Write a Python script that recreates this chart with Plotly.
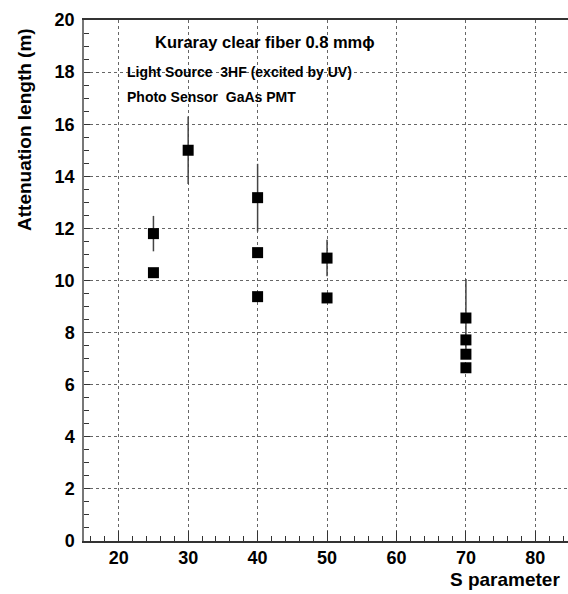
import plotly.graph_objects as go

s_param = [25, 25, 30, 40, 40, 40, 50, 50, 70, 70, 70, 70]
atten = [11.8, 10.3, 15.0, 13.18, 11.07, 9.38, 10.86, 9.33, 8.56, 7.72, 7.17, 6.65]
err = [0.68, 0, 1.3, 1.3, 0, 0, 0.7, 0, 1.5, 0, 0, 0]

x_ticks = [20, 30, 40, 50, 60, 70, 80]
y_ticks = [0, 2, 4, 6, 8, 10, 12, 14, 16, 18, 20]

W, H = 568, 594
L, R, T, B = 84, 0, 20, 53

def px(x):
    return (x - L) / (W - L - R)

def py(y):
    return (H - B - y) / (H - T - B)

FONT = "Liberation Sans, Arial, sans-serif"

fig = go.Figure()
fig.add_trace(go.Scatter(
    x=s_param, y=atten, mode="markers",
    marker=dict(symbol="square", size=11, color="black", line=dict(width=0)),
    error_y=dict(type="data", array=err, visible=True, thickness=1.5,
                 width=0, color="#444444"),
    showlegend=False,
))

axis_common = dict(
    showline=True, linewidth=1.5,
    ticks="inside", tickcolor="#333333", tickwidth=1,
    showgrid=True, gridcolor="#666666", griddash="dot", gridwidth=0.8,
    zeroline=False,
    tickfont=dict(family=FONT, size=18, color="black", weight="bold"),
)

fig.update_layout(
    width=W, height=H,
    margin=dict(l=L, r=R, t=T, b=B),
    paper_bgcolor="white", plot_bgcolor="white",
    xaxis=dict(
        range=[15, 84.7], tickvals=x_ticks, ticklen=10, mirror=True,
        linecolor="#333333",
        minor=dict(dtick=2, tick0=0, ticklen=5, ticks="inside",
                   tickcolor="#333333", showgrid=False),
        **axis_common,
    ),
    yaxis=dict(
        range=[0, 20], tickvals=y_ticks, ticklen=6, ticklabelstandoff=4,
        linecolor="#777777",
        minor=dict(dtick=0.5, tick0=0, ticklen=5, ticks="inside",
                   tickcolor="#333333", showgrid=False),
        **axis_common,
    ),
    annotations=[
        dict(text="Kuraray clear fiber 0.8 mmϕ", x=px(265), y=py(42),
             xref="paper", yref="paper", showarrow=False,
             font=dict(family=FONT, size=16.5, color="black", weight="bold"),
             xanchor="center", yanchor="middle"),
        dict(text="Light Source  3HF (excited by UV)", x=px(125), y=py(72),
             xref="paper", yref="paper", showarrow=False,
             font=dict(family=FONT, size=14, color="black", weight="bold"),
             xanchor="left", yanchor="middle"),
        dict(text="Photo Sensor  GaAs PMT", x=px(125), y=py(97),
             xref="paper", yref="paper", showarrow=False,
             font=dict(family=FONT, size=14, color="black", weight="bold"),
             xanchor="left", yanchor="middle"),
        dict(text="Attenuation length (m)", x=px(24), y=py(130),
             xref="paper", yref="paper", showarrow=False, textangle=-90,
             font=dict(family=FONT, size=19, color="black", weight="bold"),
             xanchor="center", yanchor="middle"),
        dict(text="S parameter", x=px(562), y=py(579),
             xref="paper", yref="paper", showarrow=False,
             font=dict(family=FONT, size=19, color="black", weight="bold"),
             xanchor="right", yanchor="middle"),
    ],
)

fig.write_html(
    "out.html",
    config={"displayModeBar": False},
    post_script="document.body.style.margin='0';document.body.style.overflow='hidden';",
)
